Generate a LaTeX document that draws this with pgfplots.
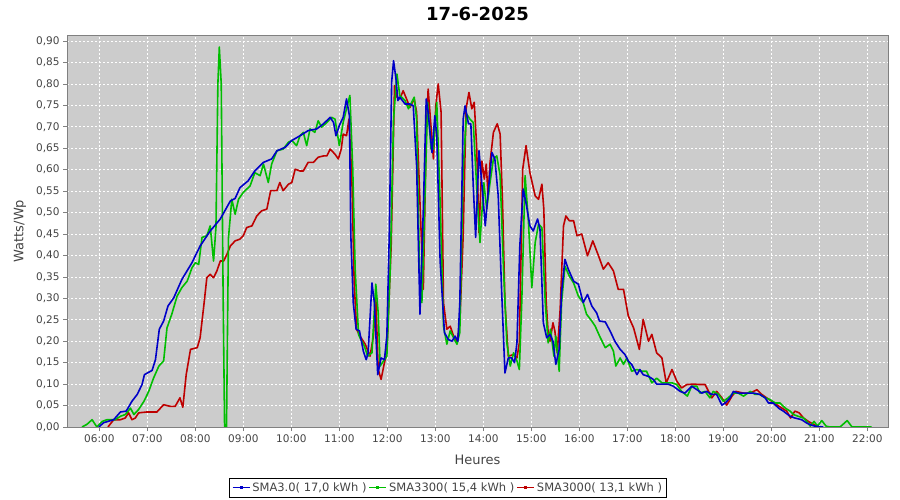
\documentclass[border=0pt]{standalone}
\usepackage{pgfplots}
\pgfplotsset{compat=1.18}
\usepackage{fontspec}
\setmainfont{DejaVu Sans}
\definecolor{plotbg}{RGB}{204,204,204}
\definecolor{cblue}{RGB}{0,0,200}
\definecolor{cgreen}{RGB}{0,190,0}
\definecolor{cred}{RGB}{190,0,0}
\definecolor{frame}{RGB}{128,128,128}
\definecolor{ticktext}{RGB}{68,68,68}
\begin{document}
\begin{tikzpicture}
\useasboundingbox (0,0) rectangle (900bp,500bp);
\begin{axis}[
  at={(67bp,73bp)}, anchor=south west,
  scale only axis, width=821bp, height=392bp,
  xmin=5.327, xmax=22.43, ymin=0, ymax=0.914,
  axis background/.style={fill=plotbg},
  axis line style={frame, line width=0.8bp},
  xtick={6,7,...,22},
  xticklabels={06:00,07:00,08:00,09:00,10:00,11:00,12:00,13:00,14:00,15:00,16:00,17:00,18:00,19:00,20:00,21:00,22:00},
  ytick={0,0.05,...,0.91},
  yticklabel style={/pgf/number format/.cd, fixed, fixed zerofill, precision=2, use comma, assume math mode=true},
  tick label style={font=\fontsize{10.5bp}{12bp}\selectfont, text=ticktext},
  tick align=outside, xtick pos=bottom, ytick pos=left,
  major tick length=4bp,
  tick style={frame, line width=0.6bp},
  grid=major,
  major grid style={white, dash pattern=on 2bp off 2bp, line width=0.6bp},
  title={\textbf{17-6-2025}},
  title style={at={(axis description cs:0.5,1)}, anchor=center, yshift=15bp, font=\fontsize{18bp}{20bp}\selectfont},
  xlabel={Heures},
  ylabel={Watts/Wp},
  xlabel style={at={(axis description cs:0.5,-0.084)}, anchor=center, font=\fontsize{13bp}{15bp}\selectfont, text=ticktext},
  ylabel style={at={(axis description cs:-0.0572,0.5)}, anchor=center, font=\fontsize{13bp}{15bp}\selectfont, text=ticktext},
  legend columns=3,
  legend style={at={(axis description cs:0.464,-0.1543)}, anchor=center, font=\fontsize{11.5bp}{13bp}\selectfont, inner sep=2.5bp, fill=white, draw=black, text=ticktext},
  legend cell align=left,
]
\addlegendimage{cblue, line width=1.6bp, mark=square*, mark size=0.7bp, mark options={solid}}
\addlegendentry{SMA3.0( 17,0 kWh )}
\addlegendimage{cgreen, line width=1.6bp, mark=square*, mark size=0.7bp}
\addlegendentry{SMA3300( 15,4 kWh )}
\addlegendimage{cred, line width=1.6bp, mark=square*, mark size=0.7bp}
\addlegendentry{SMA3000( 13,1 kWh )}
% SMA3000 (red)
\addplot[cred, line width=1.6bp, line join=round, no marks, forget plot] coordinates {
(6.18,0) (6.30,0.017) (6.44,0.017) (6.54,0.021) (6.61,0.033) (6.68,0.017) (6.75,0.021) (6.82,0.033) (6.99,0.035) (7.20,0.035) (7.34,0.052) (7.48,0.048) (7.58,0.048) (7.68,0.068) (7.74,0.046) (7.81,0.122) (7.90,0.181) (8.04,0.185) (8.10,0.208) (8.18,0.286) (8.24,0.348) (8.31,0.356) (8.38,0.348) (8.45,0.364) (8.52,0.387) (8.59,0.387) (8.66,0.403) (8.73,0.422) (8.83,0.434) (8.93,0.438) (9.00,0.446) (9.07,0.465) (9.18,0.469) (9.28,0.492) (9.38,0.504) (9.49,0.508) (9.57,0.551) (9.70,0.551) (9.76,0.570) (9.83,0.551) (9.94,0.566) (10.01,0.570) (10.08,0.601) (10.18,0.597) (10.25,0.597) (10.35,0.617) (10.46,0.617) (10.56,0.629) (10.67,0.632) (10.74,0.632) (10.81,0.648) (10.91,0.636) (10.98,0.625) (11.04,0.648) (11.08,0.683) (11.15,0.679) (11.20,0.718) (11.26,0.586) (11.31,0.336) (11.36,0.228) (11.43,0.212) (11.54,0.193) (11.64,0.165) (11.71,0.212) (11.76,0.301) (11.81,0.134) (11.87,0.111) (11.94,0.150) (11.99,0.173) (12.08,0.422) (12.15,0.796) (12.20,0.769) (12.26,0.765) (12.33,0.784) (12.40,0.765) (12.47,0.745) (12.56,0.765) (12.61,0.734) (12.68,0.523) (12.75,0.321) (12.81,0.679) (12.85,0.788) (12.93,0.671) (12.96,0.625) (13.01,0.749) (13.06,0.800) (13.12,0.734) (13.17,0.290) (13.24,0.228) (13.31,0.235) (13.38,0.212) (13.45,0.196) (13.51,0.243) (13.58,0.446) (13.64,0.742) (13.70,0.780) (13.76,0.742) (13.81,0.757) (13.86,0.656) (13.91,0.453) (13.97,0.620) (14.02,0.578) (14.06,0.613) (14.10,0.539) (14.14,0.617) (14.21,0.687) (14.29,0.707) (14.35,0.683) (14.40,0.523) (14.45,0.290) (14.52,0.165) (14.63,0.169) (14.70,0.161) (14.75,0.196) (14.82,0.601) (14.89,0.656) (14.97,0.593) (15.08,0.539) (15.15,0.531) (15.22,0.566) (15.26,0.508) (15.31,0.290) (15.35,0.220) (15.39,0.200) (15.45,0.243) (15.49,0.224) (15.54,0.173) (15.60,0.274) (15.67,0.469) (15.72,0.492) (15.79,0.481) (15.88,0.481) (15.95,0.446) (16.05,0.450) (16.17,0.399) (16.28,0.434) (16.40,0.399) (16.50,0.368) (16.60,0.383) (16.71,0.364) (16.81,0.321) (16.92,0.321) (17.02,0.259) (17.13,0.231) (17.25,0.181) (17.33,0.251) (17.44,0.200) (17.51,0.216) (17.61,0.173) (17.72,0.161) (17.81,0.103) (17.93,0.134) (18.03,0.107) (18.13,0.091) (18.24,0.099) (18.38,0.100) (18.51,0.099) (18.62,0.099) (18.76,0.068) (18.86,0.083) (18.97,0.068) (19.07,0.051) (19.18,0.072) (19.26,0.083) (19.42,0.079) (19.56,0.079) (19.70,0.087) (19.80,0.076) (19.90,0.068) (20.01,0.060) (20.11,0.052) (20.22,0.044) (20.32,0.037) (20.40,0.021) (20.49,0.037) (20.58,0.033) (20.67,0.021) (20.77,0.013) (20.88,0.006) (20.98,0)
};
% SMA3300 (green)
\addplot[cgreen, line width=1.6bp, line join=round, no marks, forget plot] coordinates {
(5.64,0) (5.74,0.006) (5.85,0.017) (5.95,0) (6.06,0.013) (6.16,0.017) (6.33,0.017) (6.44,0.025) (6.54,0.029) (6.65,0.044) (6.72,0.029) (6.82,0.041) (6.93,0.060) (7.03,0.083) (7.13,0.114) (7.24,0.142) (7.34,0.154) (7.41,0.231) (7.51,0.263) (7.62,0.305) (7.72,0.325) (7.83,0.340) (7.93,0.371) (8.00,0.383) (8.07,0.379) (8.14,0.442) (8.24,0.446) (8.31,0.469) (8.38,0.387) (8.43,0.465) (8.47,0.800) (8.50,0.886) (8.54,0.800) (8.58,0.300) (8.61,0) (8.65,0) (8.69,0.440) (8.76,0.531) (8.83,0.496) (8.90,0.531) (9.00,0.547) (9.14,0.562) (9.24,0.593) (9.35,0.586) (9.42,0.613) (9.52,0.570) (9.59,0.613) (9.70,0.644) (9.83,0.648) (9.94,0.664) (10.01,0.668) (10.11,0.656) (10.18,0.679) (10.25,0.687) (10.32,0.656) (10.39,0.695) (10.49,0.687) (10.56,0.714) (10.63,0.699) (10.74,0.710) (10.84,0.722) (10.91,0.718) (11.00,0.656) (11.08,0.710) (11.15,0.742) (11.22,0.773) (11.28,0.601) (11.33,0.368) (11.40,0.216) (11.43,0.208) (11.52,0.189) (11.59,0.165) (11.68,0.173) (11.76,0.333) (11.81,0.266) (11.85,0.142) (11.92,0.154) (11.99,0.165) (12.06,0.368) (12.13,0.718) (12.20,0.823) (12.26,0.773) (12.37,0.761) (12.44,0.742) (12.56,0.769) (12.61,0.718) (12.67,0.368) (12.72,0.290) (12.79,0.562) (12.84,0.757) (12.91,0.648) (12.96,0.648) (13.03,0.757) (13.10,0.523) (13.17,0.235) (13.24,0.193) (13.31,0.224) (13.38,0.208) (13.45,0.193) (13.51,0.220) (13.58,0.601) (13.65,0.730) (13.72,0.718) (13.79,0.710) (13.86,0.562) (13.93,0.430) (14.01,0.570) (14.07,0.508) (14.14,0.570) (14.21,0.625) (14.28,0.632) (14.35,0.586) (14.42,0.368) (14.49,0.196) (14.56,0.142) (14.63,0.173) (14.70,0.154) (14.75,0.134) (14.80,0.290) (14.87,0.586) (14.94,0.477) (15.01,0.325) (15.08,0.430) (15.15,0.473) (15.22,0.465) (15.29,0.290) (15.35,0.196) (15.40,0.228) (15.47,0.165) (15.51,0.212) (15.58,0.130) (15.63,0.290) (15.70,0.375) (15.79,0.352) (15.88,0.336) (15.98,0.305) (16.08,0.290) (16.15,0.263) (16.26,0.247) (16.33,0.235) (16.43,0.210) (16.54,0.185) (16.64,0.193) (16.71,0.177) (16.76,0.142) (16.85,0.161) (16.92,0.146) (16.99,0.161) (17.09,0.130) (17.20,0.134) (17.30,0.130) (17.40,0.130) (17.51,0.103) (17.61,0.114) (17.72,0.103) (17.82,0.103) (17.93,0.103) (18.03,0.099) (18.13,0.083) (18.25,0.072) (18.34,0.095) (18.45,0.095) (18.51,0.079) (18.62,0.083) (18.72,0.068) (18.79,0.083) (18.90,0.076) (19.00,0.060) (19.10,0.068) (19.21,0.079) (19.31,0.079) (19.42,0.072) (19.56,0.083) (19.66,0.076) (19.76,0.076) (19.87,0.068) (19.97,0.064) (20.08,0.056) (20.18,0.056) (20.29,0.044) (20.39,0.037) (20.46,0.029) (20.56,0.025) (20.67,0.021) (20.74,0.013) (20.81,0.002) (20.89,0.013) (20.96,0.002) (21.05,0.015) (21.14,0.002) (21.22,0) (21.43,0) (21.58,0.015) (21.68,0) (22.09,0)
};
% SMA3.0 (blue)
\addplot[cblue, line width=1.6bp, line join=round, no marks, forget plot] coordinates {
(5.99,0) (6.09,0.010) (6.30,0.017) (6.44,0.035) (6.56,0.037) (6.68,0.060) (6.79,0.076) (6.89,0.099) (6.94,0.122) (7.10,0.132) (7.17,0.157) (7.25,0.228) (7.34,0.247) (7.43,0.282) (7.55,0.301) (7.72,0.344) (7.93,0.383) (8.10,0.422) (8.31,0.457) (8.52,0.485) (8.73,0.527) (8.83,0.533) (8.93,0.558) (9.10,0.574) (9.24,0.597) (9.42,0.617) (9.59,0.625) (9.70,0.644) (9.87,0.652) (10.01,0.668) (10.18,0.679) (10.35,0.691) (10.53,0.695) (10.67,0.707) (10.81,0.722) (10.88,0.710) (10.93,0.679) (11.00,0.703) (11.08,0.722) (11.15,0.765) (11.21,0.726) (11.24,0.446) (11.29,0.290) (11.35,0.228) (11.42,0.224) (11.50,0.177) (11.56,0.157) (11.60,0.173) (11.68,0.336) (11.73,0.290) (11.80,0.122) (11.87,0.161) (11.94,0.157) (11.99,0.212) (12.04,0.446) (12.09,0.804) (12.13,0.854) (12.18,0.812) (12.22,0.761) (12.26,0.769) (12.37,0.753) (12.47,0.753) (12.54,0.749) (12.61,0.609) (12.68,0.263) (12.75,0.508) (12.81,0.765) (12.85,0.734) (12.93,0.640) (12.99,0.726) (13.03,0.679) (13.10,0.387) (13.19,0.220) (13.27,0.204) (13.35,0.200) (13.41,0.212) (13.47,0.200) (13.51,0.290) (13.58,0.718) (13.62,0.749) (13.69,0.707) (13.74,0.707) (13.79,0.562) (13.84,0.442) (13.91,0.644) (13.99,0.539) (14.04,0.469) (14.10,0.547) (14.18,0.640) (14.24,0.625) (14.31,0.539) (14.38,0.321) (14.45,0.126) (14.52,0.161) (14.59,0.161) (14.65,0.150) (14.70,0.196) (14.76,0.422) (14.83,0.555) (14.90,0.516) (14.97,0.469) (15.04,0.457) (15.13,0.485) (15.18,0.461) (15.25,0.243) (15.32,0.208) (15.39,0.216) (15.45,0.200) (15.51,0.146) (15.58,0.181) (15.63,0.313) (15.70,0.391) (15.77,0.368) (15.88,0.340) (15.98,0.333) (16.08,0.290) (16.17,0.309) (16.26,0.282) (16.36,0.266) (16.42,0.247) (16.54,0.245) (16.64,0.224) (16.74,0.200) (16.85,0.181) (16.95,0.169) (17.02,0.154) (17.09,0.146) (17.20,0.122) (17.26,0.134) (17.33,0.122) (17.44,0.118) (17.54,0.111) (17.61,0.100) (17.75,0.100) (17.85,0.100) (17.96,0.095) (18.10,0.083) (18.20,0.079) (18.34,0.095) (18.45,0.087) (18.55,0.079) (18.65,0.083) (18.76,0.076) (18.86,0.076) (18.97,0.051) (19.04,0.056) (19.14,0.068) (19.21,0.083) (19.31,0.079) (19.42,0.079) (19.56,0.079) (19.63,0.079) (19.76,0.076) (19.87,0.068) (19.94,0.056) (20.04,0.056) (20.15,0.044) (20.25,0.037) (20.39,0.025) (20.49,0.021) (20.63,0.017) (20.74,0.009) (20.84,0.004) (20.91,0.002) (21.08,0)
};
\end{axis}
\end{tikzpicture}
\end{document}
